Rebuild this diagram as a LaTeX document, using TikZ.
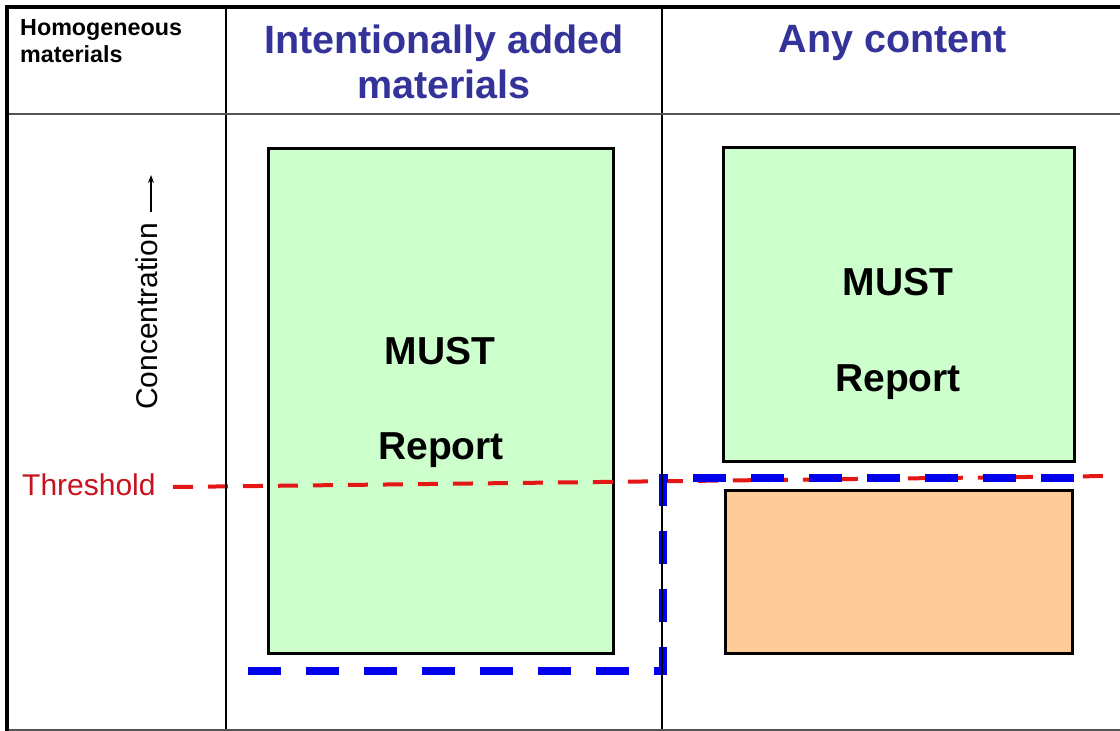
\documentclass[tikz,border=0pt]{standalone}
\usepackage{fontspec}
\setmainfont{Liberation Sans}
\usetikzlibrary{arrows.meta}

\definecolor{mustgreen}{RGB}{204,255,204}
\definecolor{lowpeach}{RGB}{255,204,153}
\definecolor{headblue}{RGB}{51,51,153}
\definecolor{thrred}{RGB}{200,18,30}
\definecolor{dashred}{RGB}{228,22,22}
\definecolor{dashblue}{RGB}{0,0,235}
\definecolor{rulegray}{RGB}{85,85,85}

\begin{document}
\begin{tikzpicture}[x=1pt,y=-1pt,
  frame/.style={line width=4pt,line join=miter},
  colrule/.style={line width=1.5pt,black},
  rowrule/.style={line width=2pt,rulegray},
  cell/.style={draw=black,line width=3pt,inner sep=0pt},
  mustcell/.style={cell,fill=mustgreen},
  lowcell/.style={cell,fill=lowpeach},
  headtext/.style={anchor=base,inner sep=0pt,text=headblue,font=\bfseries\fontsize{39.5}{45}\selectfont},
  celltext/.style={anchor=base,inner sep=0pt,font=\bfseries\fontsize{39}{45}\selectfont},
  axistext/.style={inner sep=0pt,font=\fontsize{30}{34}\selectfont},
  threshold/.style={dashred,line width=4pt,dash pattern=on 20pt off 15pt},
  reportline/.style={dashblue,line width=8pt,dash pattern=on 33pt off 25pt,line join=miter},
  axisarrow/.style={line width=1.3pt,-{Stealth[length=8pt,width=6pt]}}]

\useasboundingbox (0,0) rectangle (1120,731);
\fill[white] (0,0) rectangle (1120,731);

% cells
\node[mustcell,minimum width=345pt,minimum height=505pt] (leftmust) at (440.5,400.5) {};
\node[mustcell,minimum width=351pt,minimum height=314pt] (rightmust) at (898.5,304) {};
\node[lowcell,minimum width=347pt,minimum height=163pt] (rightlow) at (898.5,571.5) {};

% cell texts
\node[celltext] (lmust) at (440,364) {MUST};
\node[celltext] (lrep) at (441,459) {Report};
\node[celltext] (rmust) at (898,295) {MUST};
\node[celltext] (rrep) at (898,391) {Report};

% header texts
\node[anchor=north west,align=left,inner sep=0pt,font=\bfseries\fontsize{23.3}{27}\selectfont] (homog) at (20,19) {Homogeneous\\materials};
\node[headtext] (ia1) at (444,53) {Intentionally added};
\node[headtext] (ia2) at (444,98) {materials};
\node[headtext] (any) at (893,52) {Any content};

% concentration axis
\node[axistext,rotate=90,anchor=base west] (conc) at (157,410) {Concentration};
\coordinate (concup) at (151,175);
\draw[axisarrow] (151,212) -- (concup);

% threshold
\node[axistext,anchor=base west,text=thrred] (thr) at (22,495) {Threshold};
\coordinate (t0) at (173,487);
\coordinate (t1) at (1110,476);
\draw[threshold] (t0) -- (t1);

% reporting boundary
\coordinate (b0) at (248,671);
\coordinate (b1) at (663,671);
\coordinate (b2) at (663,478);
\coordinate (b3) at (1084,478);
\draw[reportline] (b0) -- (b1) -- (b2) -- (b3);

% table rules
\draw[colrule] (226,7) -- (226,731);
\draw[colrule] (662,7) -- (662,731);
\draw[rowrule] (7,114) -- (1120,114);
\draw[rowrule] (7,729.5) -- (1120,729.5);
\draw[frame] (1120,7) -- (7,7) -- (7,731);
\end{tikzpicture}
\end{document}
